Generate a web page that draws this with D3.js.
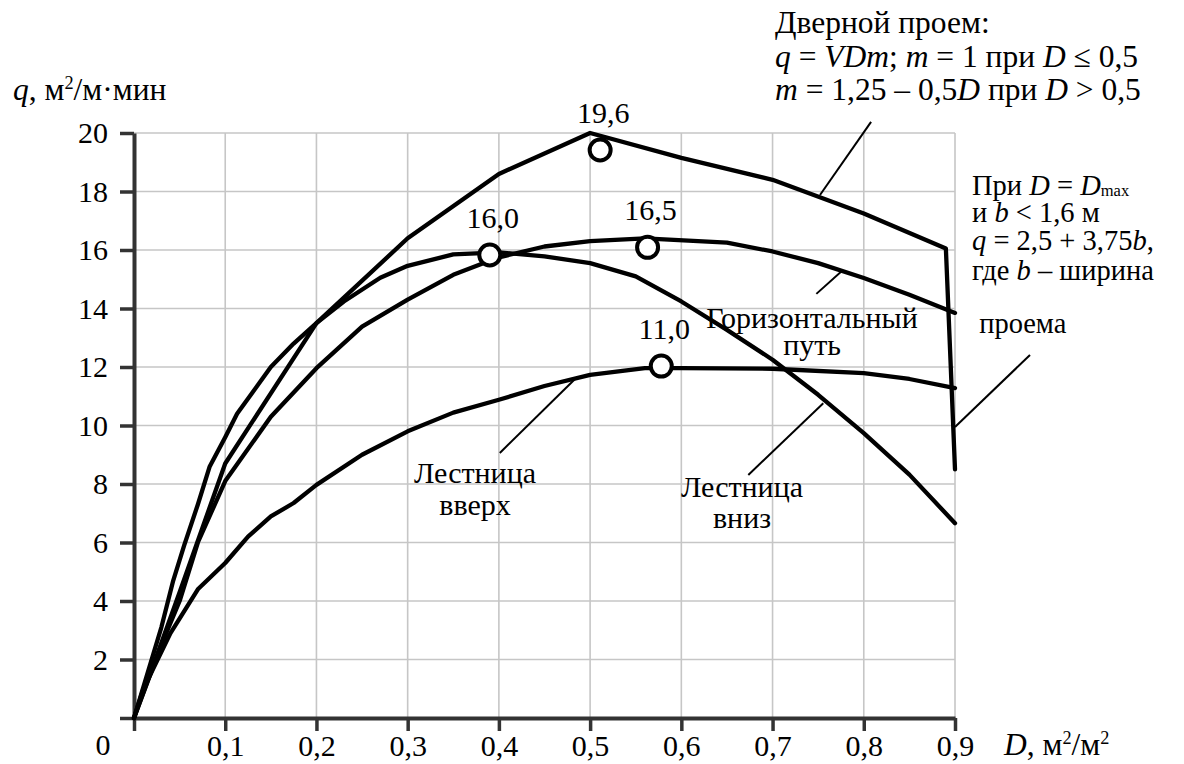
<!DOCTYPE html>
<html>
<head>
<meta charset="utf-8">
<script src="https://cdn.jsdelivr.net/npm/d3@7"></script>
<style>
  html, body { margin: 0; padding: 0; background: #fff; }
  svg { display: block; }
  svg text { font-family: "Liberation Serif", "Times New Roman", serif !important; white-space: pre; fill: #000; }
</style>
</head>
<body>
<svg id="chart" width="1184" height="764"></svg>
<script>
// Specific flow q (м²/м·мин) against flow density D (м²/м²)
const doorway = [[0,0],[0.02,1.7],[0.05,4.3],[0.1,8.7],[0.2,13.5],[0.3,16.4],[0.4,18.6],[0.5,20.0],[0.6,19.15],[0.7,18.4],[0.8,17.25],[0.89,16.05],[0.9,8.5]];
const horizontal = [[0,0],[0.03,2.5],[0.05,4.0],[0.07,6.0],[0.1,8.1],[0.15,10.3],[0.2,11.96],[0.25,13.38],[0.3,14.3],[0.35,15.15],[0.4,15.75],[0.45,16.12],[0.5,16.3],[0.56,16.4],[0.65,16.25],[0.7,15.95],[0.75,15.55],[0.8,15.04],[0.85,14.47],[0.9,13.85]];
const stairsDown = [[0,0],[0.03,3.1],[0.043,4.7],[0.055,5.9],[0.07,7.3],[0.083,8.6],[0.1,9.6],[0.113,10.4],[0.15,12.0],[0.175,12.8],[0.2,13.5],[0.23,14.24],[0.27,15.05],[0.3,15.46],[0.35,15.85],[0.4,15.92],[0.45,15.78],[0.5,15.55],[0.55,15.1],[0.6,14.24],[0.65,13.27],[0.7,12.25],[0.75,11.05],[0.8,9.74],[0.85,8.32],[0.9,6.66]];
const stairsUp = [[0,0],[0.01,0.97],[0.04,2.9],[0.07,4.4],[0.1,5.3],[0.125,6.2],[0.15,6.89],[0.175,7.35],[0.2,7.97],[0.25,9.0],[0.3,9.8],[0.35,10.44],[0.4,10.88],[0.45,11.35],[0.5,11.73],[0.56,11.96],[0.6,11.96],[0.7,11.94],[0.8,11.79],[0.85,11.59],[0.9,11.28]];

// Peak markers on the curves and the values printed above them
const peakMarkers = [
  { D: 0.511, q: 19.42, label: "19,6" },
  { D: 0.390, q: 15.83, label: "16,0" },
  { D: 0.563, q: 16.09, label: "16,5" },
  { D: 0.578, q: 12.03, label: "11,0" }
];

// Axis ticks
const xTicks = [0, 0.1, 0.2, 0.3, 0.4, 0.5, 0.6, 0.7, 0.8, 0.9];
const yTicks = [0, 2, 4, 6, 8, 10, 12, 14, 16, 18, 20];

// Leader lines from curve labels to the curves, in (D, q) units
const leaders = [
  [[0.808, 20.38], [0.752, 17.88]],
  [[0.776, 15.28], [0.748, 14.50]],
  [[0.4835, 11.59], [0.401, 9.06]],
  [[0.7556, 10.76], [0.6734, 8.31]],
  [[0.900, 9.95], [0.9822, 12.41]]
];

// Curve names placed inside the plot: anchor (D, q) of the first line
const curveNames = [
  { D: 0.3738, q: 8.04, lines: ["Лестница", "вверх"], gap: 32 },
  { D: 0.6665, q: 7.56, lines: ["Лестница", "вниз"], gap: 31 },
  { D: 0.7433, q: 13.33, lines: ["Горизонтальный", "путь"], gap: 27 }
];

const svg = d3.select("#chart");
const x = d3.scaleLinear().domain([0, 0.9]).range([134, 955]);
const y = d3.scaleLinear().domain([0, 20]).range([718, 133]);
const ru = d3.formatLocale({ decimal: ",", thousands: " ", grouping: [3], currency: ["", ""] });
const fmt1 = ru.format(".1f");

const FS = 30;

// Grid
const grid = svg.append("g").attr("stroke", "#c6c6c6").attr("stroke-width", 1.6);
grid.selectAll("line.h").data(yTicks.filter(v => v > 0)).join("line")
  .attr("x1", x(0)).attr("x2", x(0.9))
  .attr("y1", d => y(d)).attr("y2", d => y(d));
grid.selectAll("line.v").data(xTicks.filter(v => v > 0)).join("line")
  .attr("y1", y(0)).attr("y2", y(20))
  .attr("x1", d => x(d)).attr("x2", d => x(d));

// Axes
const xAxis = d3.axisBottom(x).tickValues(xTicks).tickSize(13).tickSizeOuter(0).tickPadding(4)
  .tickFormat(d => d === 0 ? "" : fmt1(d));
const yAxis = d3.axisLeft(y).tickValues(yTicks).tickSize(14).tickSizeOuter(0).tickPadding(12)
  .tickFormat(d => d === 0 ? "" : String(d));

const gx = svg.append("g").attr("transform", `translate(0,${y(0)})`).call(xAxis);
const gy = svg.append("g").attr("transform", `translate(${x(0)},0)`).call(yAxis);
[gx, gy].forEach(g => {
  g.attr("font-family", null).attr("font-size", FS);
  g.select(".domain").attr("stroke", "#333").attr("stroke-width", 4);
  g.selectAll(".tick line").attr("stroke", "#333").attr("stroke-width", 3.5);
  g.selectAll(".tick text").attr("font-size", FS).attr("fill", "#000");
});

// Rich text block: each line is a list of [string, kind], kind = "i" | "sup" | "sub"
function richBlock(sel, px, baselines, lines, size) {
  const t = sel.append("text").attr("font-size", size);
  lines.forEach((parts, li) => {
    let shift = 0;
    parts.forEach(([str, kind], pi) => {
      const ts = t.append("tspan").text(str);
      let target = 0;
      if (kind === "sup") target = -0.36 * size;
      if (kind === "sub") target = 0.04 * size;
      if (pi === 0) ts.attr("x", px).attr("y", baselines[li] + target);
      else if (target - shift !== 0) ts.attr("dy", target - shift);
      shift = target;
      if (kind === "i") ts.attr("font-style", "italic");
      if (kind === "sup" || kind === "sub") ts.attr("font-size", size * 0.58);
    });
  });
  return t;
}

// Axis titles and origin
svg.append("text").attr("x", 103).attr("y", 755).attr("font-size", FS).attr("text-anchor", "middle").text("0");
richBlock(svg, 13, [100], [[["q", "i"], [", м"], ["2", "sup"], ["/м·мин"]]], 31.5);
richBlock(svg, 1004, [755], [[["D", "i"], [", м"], ["2", "sup"], ["/м"], ["2", "sup"]]], 31.5);

// Leader lines
svg.append("g").attr("stroke", "#000").attr("stroke-width", 2)
  .selectAll("line").data(leaders).join("line")
  .attr("x1", d => x(d[0][0])).attr("y1", d => y(d[0][1]))
  .attr("x2", d => x(d[1][0])).attr("y2", d => y(d[1][1]));

// Curves
const line = d3.line().x(d => x(d[0])).y(d => y(d[1]));
svg.append("g").attr("fill", "none").attr("stroke", "#000").attr("stroke-width", 4.3)
  .attr("stroke-linejoin", "round").attr("stroke-linecap", "round")
  .selectAll("path").data([stairsUp, horizontal, stairsDown, doorway]).join("path")
  .attr("d", line);

// Peak markers and their values
const pm = svg.append("g");
pm.selectAll("circle").data(peakMarkers).join("circle")
  .attr("cx", d => x(d.D)).attr("cy", d => y(d.q)).attr("r", 10.5)
  .attr("fill", "#fff").attr("stroke", "#000").attr("stroke-width", 4);
pm.selectAll("text").data(peakMarkers).join("text")
  .attr("x", d => x(d.D) + 3).attr("y", d => y(d.q) - 27)
  .attr("text-anchor", "middle").attr("font-size", FS).text(d => d.label);

// Curve names
curveNames.forEach(c => {
  const t = svg.append("text").attr("font-size", FS).attr("text-anchor", "middle");
  c.lines.forEach((s, i) => t.append("tspan").attr("x", x(c.D)).attr("y", y(c.q) + i * c.gap).text(s));
});

// Doorway formula block
richBlock(svg, 775, [33, 67, 100], [
  [["Дверной проем:"]],
  [["q", "i"], [" = "], ["VDm", "i"], ["; "], ["m", "i"], [" = 1 при "], ["D", "i"], [" ≤ 0,5"]],
  [["m", "i"], [" = 1,25 – 0,5"], ["D", "i"], [" при "], ["D", "i"], [" > 0,5"]]
], 31.5);

// Maximum-density note
richBlock(svg, 972, [195, 222, 250, 280, 333], [
  [["При "], ["D", "i"], [" = "], ["D", "i"], ["max", "sub"]],
  [["и "], ["b", "i"], [" < 1,6 м"]],
  [["q", "i"], [" = 2,5 + 3,75"], ["b", "i"], [","]],
  [["где "], ["b", "i"], [" – ширина"]],
  [[" проема"]]
], 28.5);
</script>
</body>
</html>
